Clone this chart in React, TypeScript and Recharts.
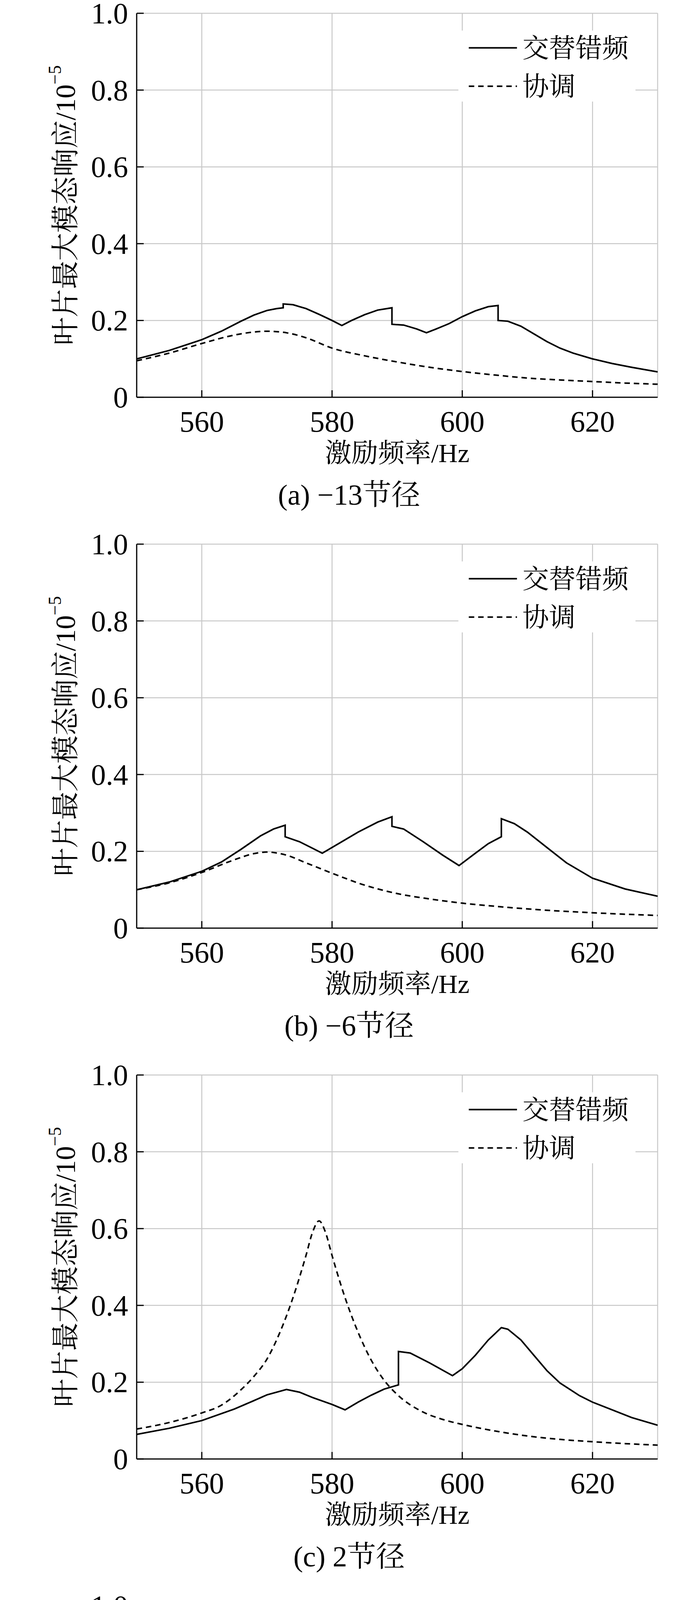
import React from 'react';
import { LineChart, Line, XAxis, YAxis, CartesianGrid, ReferenceArea, ReferenceLine } from 'recharts';

type P = { x: number; y: number };
const mk = (a: number[][]): P[] => a.map(([x, y]) => ({ x, y }));

const xTicks = [560, 580, 600, 620];
const yTicks = [0, 0.2, 0.4, 0.6, 0.8, 1.0];
const captions = ['(a) −13节径', '(b) −6节径', '(c) 2节径', '(d) 9节径'];
const seriesNames = ['交替错频', '协调'];

const solidA = mk([[550,0.1],[555,0.122],[560,0.15],[563,0.172],[566,0.198],[568,0.214],[570,0.226],[571.5,0.231],[572.5,0.233],[572.5,0.243],[574,0.241],[576,0.231],[578,0.216],[580,0.2],[581.5,0.187],[583,0.2],[585,0.215],[587,0.227],[589.2,0.233],[589.2,0.19],[591,0.188],[593,0.178],[594.5,0.168],[596,0.178],[598,0.192],[600,0.21],[602,0.225],[604,0.236],[605.5,0.239],[605.5,0.2],[607,0.198],[609,0.185],[611,0.165],[613,0.145],[615,0.128],[617,0.115],[620,0.1],[623,0.088],[626,0.078],[630,0.066]]);
const dashA = mk([[550,0.095],[555,0.115],[560,0.14],[565,0.162],[568,0.17],[570,0.172],[573,0.168],[576,0.155],[580,0.128],[585,0.108],[590,0.092],[595,0.078],[600,0.067],[605,0.058],[610,0.05],[615,0.045],[620,0.041],[625,0.037],[630,0.034]]);

const solidB = mk([[550,0.1],[555,0.12],[560,0.148],[563,0.172],[566,0.205],[569,0.24],[571,0.258],[572.8,0.268],[572.8,0.238],[575,0.225],[577,0.208],[578.5,0.195],[581,0.22],[584,0.25],[587,0.276],[589.2,0.29],[589.2,0.265],[591,0.258],[594,0.225],[597,0.19],[599.5,0.163],[602,0.195],[604,0.22],[606,0.238],[606,0.285],[608,0.272],[610,0.25],[613,0.21],[616,0.17],[620,0.13],[625,0.102],[630,0.083]]);
const dashB = mk([[550,0.1],[555,0.118],[560,0.145],[565,0.178],[568,0.194],[570,0.198],[573,0.19],[576,0.17],[580,0.143],[585,0.112],[590,0.09],[595,0.076],[600,0.065],[605,0.057],[610,0.05],[620,0.04],[630,0.033]]);

const solidC = mk([[550,0.064],[555,0.08],[560,0.1],[565,0.13],[568,0.152],[570,0.167],[573,0.181],[575,0.174],[577,0.16],[580,0.142],[582,0.128],[584,0.148],[586,0.166],[588,0.182],[590.2,0.193],[590.2,0.28],[592,0.276],[595,0.25],[598.5,0.217],[600,0.235],[602,0.27],[604,0.31],[606,0.342],[607,0.338],[609,0.31],[611,0.27],[613,0.23],[615,0.198],[618,0.165],[620,0.148],[623,0.128],[626,0.108],[630,0.088]]);
const dashC = mk([[550,0.078],[555,0.095],[560,0.12],[563,0.14],[566,0.18],[568,0.215],[570,0.26],[572,0.33],[574,0.42],[576,0.53],[577,0.59],[578,0.62],[579,0.59],[580,0.53],[582,0.42],[584,0.33],[586,0.258],[588,0.205],[590,0.168],[594,0.122],[597,0.103],[600,0.09],[605,0.073],[610,0.06],[615,0.051],[620,0.045],[625,0.04],[630,0.036]]);

const solidD = mk([[550,0.075],[555,0.095],[560,0.125],[564,0.16],[567,0.195],[569,0.214],[570.8,0.222],[572,0.218],[574,0.2],[576,0.175],[578.2,0.145],[580,0.153],[583,0.163],[586.3,0.17],[586.3,0.15],[588,0.158],[591,0.18],[594,0.21],[597,0.24],[600,0.265],[602.8,0.28],[602.8,0.255],[605,0.245],[607,0.228],[609,0.205],[611,0.18],[613,0.158],[616,0.132],[620,0.11],[625,0.09],[630,0.075]]);
const dashD = mk([[550,0.09],[555,0.118],[560,0.158],[565,0.212],[568,0.245],[570,0.26],[572,0.268],[574,0.262],[576,0.245],[578,0.222],[582,0.175],[586,0.14],[590,0.115],[595,0.092],[600,0.076],[605,0.065],[610,0.056],[620,0.043],[630,0.035]]);

const panels = [
  { solid: solidA, dash: dashA },
  { solid: solidB, dash: dashB },
  { solid: solidC, dash: dashC },
  { solid: solidD, dash: dashD },
];

const FONT = "'Liberation Serif','Noto Serif CJK SC','Noto Sans CJK SC',serif";
const FS = 76;
const TL = 18;

const BottomTick = (p: any) => (
  <g>
    <line x1={p.x} y1={p.y} x2={p.x} y2={p.y - TL} stroke="#000" strokeWidth={3} />
    <text x={p.x} y={p.y + 88} textAnchor="middle" fontSize={FS} fontFamily={FONT} fill="#000">{p.payload.value}</text>
  </g>
);
const TopTick = (p: any) => (
  <line x1={p.x} y1={p.y} x2={p.x} y2={p.y + TL} stroke="#000" strokeWidth={3} />
);
const LeftTick = (p: any) => (
  <g>
    <line x1={p.x} y1={p.y} x2={p.x + TL} y2={p.y} stroke="#000" strokeWidth={3} />
    <text x={p.x - 22} y={p.y + 26} textAnchor="end" fontSize={FS} fontFamily={FONT} fill="#000">{p.payload.value === 0 ? '0' : p.payload.value.toFixed(1)}</text>
  </g>
);
const RightTick = (p: any) => (
  <line x1={p.x} y1={p.y} x2={p.x - TL} y2={p.y} stroke="#000" strokeWidth={3} />
);

const YTitle = (props: any) => {
  const vb = props.viewBox;
  const cx = 168 - 8;
  const cy = vb.y + vb.height / 2;
  return (
    <text x={cx} y={cy} transform={`rotate(-90 ${cx} ${cy})`} textAnchor="middle" dominantBaseline="central" fontSize={72} fontFamily={FONT} fill="#000">
      叶片最大模态响应/10<tspan dy={-28} fontSize={46}>−5</tspan>
    </text>
  );
};

const Panel = ({ solid, dash, caption }: any) => (
  <div style={{ position: 'relative', width: 1772, height: 1359 }}>
    <LineChart width={1772} height={1359} margin={{ top: 26, right: 96, bottom: 250, left: 222 }} style={{ overflow: 'visible' }}>
      <CartesianGrid stroke="#c8c8c8" strokeWidth={2.5} horizontal vertical />
      <ReferenceArea x1={599.4} x2={626.6} y1={0.77} y2={0.955} fill="#fff" fillOpacity={1} stroke="none" ifOverflow="visible" />
      <XAxis type="number" dataKey="x" domain={[550, 630]} ticks={xTicks} allowDataOverflow tickLine={false} tickSize={0} tickMargin={0} tick={<BottomTick />} stroke="#000" strokeWidth={3} height={100}
        label={{ value: '激励频率/Hz', position: 'insideBottom', offset: -66, fontSize: 68, fontFamily: FONT, fill: '#000' }} />
      <XAxis xAxisId="top" orientation="top" type="number" dataKey="x" domain={[550, 630]} ticks={xTicks} tickLine={false} tickSize={0} tickMargin={0} tick={<TopTick />} stroke="#000" strokeWidth={3} height={0} />
      <YAxis type="number" domain={[0, 1]} ticks={yTicks} allowDataOverflow tickLine={false} tickSize={0} tickMargin={0} tick={<LeftTick />} stroke="#000" strokeWidth={3} width={120} label={<YTitle />} />
      <YAxis yAxisId="right" orientation="right" type="number" domain={[0, 1]} ticks={yTicks} tickLine={false} tickSize={0} tickMargin={0} tick={<RightTick />} stroke="#000" strokeWidth={3} width={0} />
      <ReferenceLine segment={[{ x: 601, y: 0.91 }, { x: 608.4, y: 0.91 }]} stroke="#000" strokeWidth={4}
        label={{ value: seriesNames[0], position: 'right', offset: 14, fontSize: 68, fontFamily: FONT, fill: '#000' }} />
      <ReferenceLine segment={[{ x: 601, y: 0.81 }, { x: 608.4, y: 0.81 }]} stroke="#000" strokeWidth={4} strokeDasharray="14 10"
        label={{ value: seriesNames[1], position: 'right', offset: 14, fontSize: 68, fontFamily: FONT, fill: '#000' }} />
      <Line data={solid} dataKey="y" type="linear" stroke="#000" strokeWidth={4} dot={false} isAnimationActive={false} />
      <Line data={dash} dataKey="y" type="monotone" stroke="#000" strokeWidth={4} strokeDasharray="14 10" dot={false} isAnimationActive={false} />
    </LineChart>
    <div style={{ position: 'absolute', left: 0, width: 1772, top: 1214, textAlign: 'center', fontSize: 74, fontFamily: FONT, lineHeight: '90px' }}>{caption}</div>
  </div>
);

export default function App() {
  return (
    <div style={{ width: 1772, background: '#fff' }}>
      {panels.map((p, i) => <Panel key={i} solid={p.solid} dash={p.dash} caption={captions[i]} />)}
    </div>
  );
}
